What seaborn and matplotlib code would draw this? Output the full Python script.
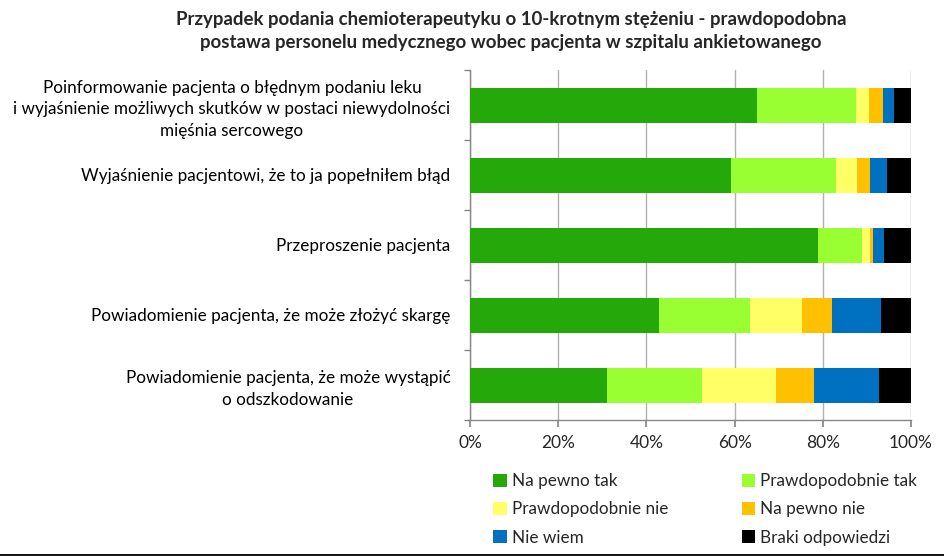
import pandas as pd
import matplotlib.pyplot as plt
import seaborn as sns
from matplotlib.lines import Line2D
from matplotlib.patches import Patch

# Chart data (percent of respondents)
categories = [
    'Poinformowanie pacjenta o błędnym podaniu leku\ni wyjaśnienie możliwych skutków w postaci niewydolności\nmięśnia sercowego',
    'Wyjaśnienie pacjentowi, że to ja popełniłem błąd',
    'Przeproszenie pacjenta',
    'Powiadomienie pacjenta, że może złożyć skargę',
    'Powiadomienie pacjenta, że może wystąpić\no odszkodowanie',
]
series_names = ['Na pewno tak', 'Prawdopodobnie tak', 'Prawdopodobnie nie',
                'Na pewno nie', 'Nie wiem', 'Braki odpowiedzi']
na_pewno_tak = [65.0, 59.1, 78.9, 42.8, 31.1]
prawdopodobnie_tak = [22.5, 23.9, 10.0, 20.6, 21.4]
prawdopodobnie_nie = [3.0, 4.7, 1.8, 11.8, 16.8]
na_pewno_nie = [3.1, 3.0, 0.6, 6.8, 8.7]
nie_wiem = [2.6, 3.8, 2.6, 11.2, 14.7]
braki = [3.8, 5.5, 6.1, 6.8, 7.3]
colors = ['#25A90A', '#99FF33', '#FFFF66', '#FFC000', '#0070C0', '#000000']

title = ('Przypadek podania chemioterapeutyku o 10-krotnym stężeniu - prawdopodobna\n'
         'postawa personelu medycznego wobec pacjenta w szpitalu ankietowanego')

df = pd.DataFrame({'Kategoria': categories})
for name, vals in zip(series_names, [na_pewno_tak, prawdopodobnie_tak, prawdopodobnie_nie,
                                     na_pewno_nie, nie_wiem, braki]):
    df[name] = vals
# normalise to 100% like the original chart
row_tot = df[series_names].sum(axis=1)
for name in series_names:
    df[name] = df[name] / row_tot * 100
cum = df[series_names].cumsum(axis=1)

sns.set_theme(style='white')
plt.rcParams['font.family'] = ['Lato', 'DejaVu Sans']

fig = plt.figure(figsize=(9.45, 5.56), dpi=100)
ax = fig.add_axes([470 / 945, 1 - 420 / 556, 441 / 945, 350 / 556])

# draw cumulative totals from the last series backwards so they stack
for name, col in reversed(list(zip(series_names, colors))):
    sns.barplot(data=cum.assign(Kategoria=categories), x=name, y='Kategoria',
                color=col, width=0.5, saturation=1, linewidth=0, ax=ax, zorder=3)

ax.set_xlim(0, 100)
ax.set_ylim(4.5, -0.5)
ax.set_xticks(range(0, 101, 20))
ax.set_xticklabels([f'{v}%' for v in range(0, 101, 20)], fontsize=12.5)
ax.set_yticks(range(5))
ax.set_yticklabels(categories, fontsize=12.3, multialignment='center', linespacing=1.45)
ax.set_yticks([i - 0.5 for i in range(6)], minor=True)
ax.tick_params(axis='y', which='major', length=0, pad=14, colors='black')
ax.tick_params(axis='y', which='minor', length=4, left=True, color='#868686')
ax.tick_params(axis='x', length=5, bottom=True, color='#868686', pad=6)
ax.set_xlabel('')
ax.set_ylabel('')
ax.grid(axis='x', color='#B0B0B0', linewidth=1, zorder=0)
ax.set_axisbelow(True)
for side in ['top', 'right']:
    ax.spines[side].set_visible(False)
for side in ['left', 'bottom']:
    ax.spines[side].set_color('#868686')
    ax.spines[side].set_linewidth(1)

fig.text(511 / 945, 1 - 31 / 556, title, ha='center', va='center',
         fontsize=13.4, fontweight='bold', linespacing=1.4)

handles = [Patch(facecolor=c, edgecolor='none') for c in colors]
order = [0, 2, 4, 1, 3, 5]
fig.legend([handles[i] for i in order], [series_names[i] for i in order],
           ncol=2, loc='upper left', bbox_to_anchor=(493 / 945, 1 - 473 / 556),
           frameon=False, fontsize=12.3, handlelength=0.8, handleheight=0.8,
           handletextpad=0.3, columnspacing=4.3, labelspacing=0.72, borderpad=0,
           borderaxespad=0)

fig.add_artist(Line2D([0, 1], [0.002, 0.002], color='black', linewidth=1.3,
                      transform=fig.transFigure))

fig.savefig('out.png', dpi=100, facecolor='white')
